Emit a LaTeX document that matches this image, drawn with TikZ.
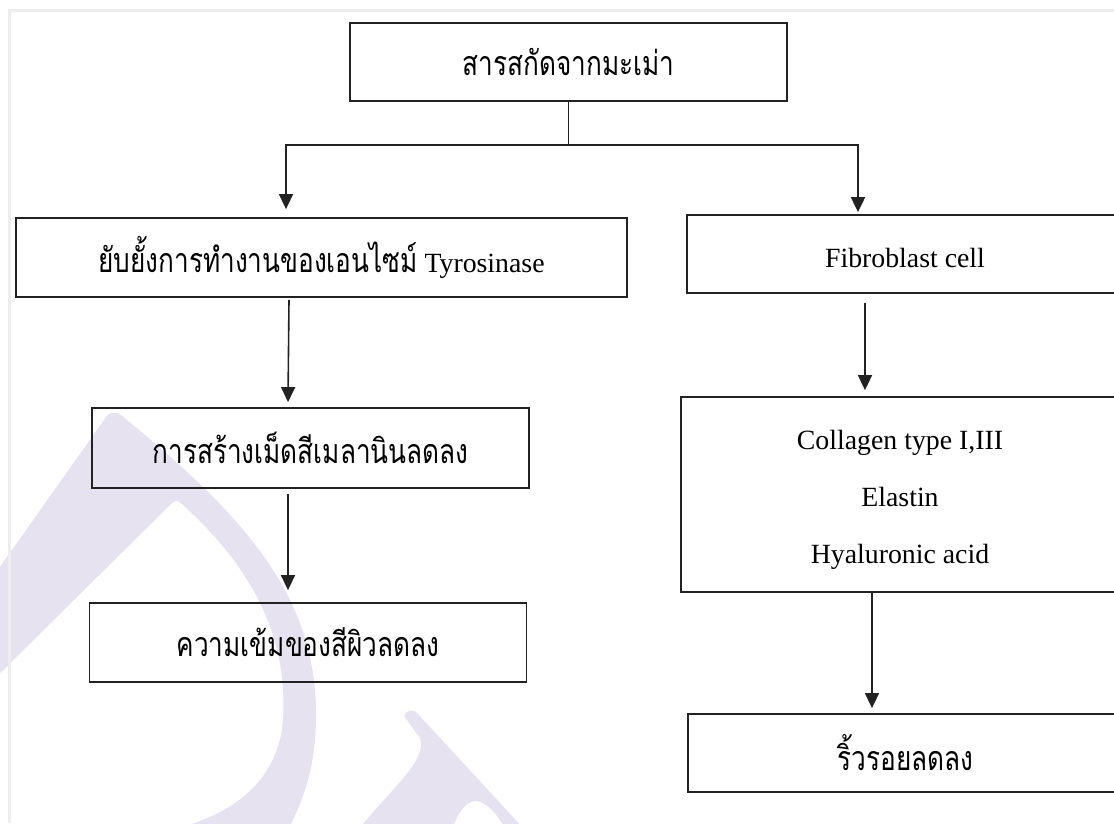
\documentclass[tikz,border=0pt]{standalone}
\usepackage{fontspec}
\setmainfont{Liberation Serif}
\newfontfamily\thaifont[Script=Thai, FakeStretch=0.77]{Loma}
\usetikzlibrary{arrows.meta}
\definecolor{wm}{RGB}{230,226,240}
\definecolor{ln}{RGB}{34,34,34}
\newcommand{\engf}{\fontsize{27.8pt}{33pt}\selectfont}
\newcommand{\thf}{\thaifont\fontsize{34pt}{38pt}\selectfont}
\tikzset{
  box/.style={draw=ln, line width=1.8pt, rectangle, inner sep=0pt, align=center, font=\engf},
  arr/.style={draw=ln, line width=1.6pt, -{Triangle[length=15pt,width=14pt]}},
  frame/.style={draw=black!7, line width=3pt}
}
\begin{document}
\begin{tikzpicture}[x=1pt,y=-1pt]
\useasboundingbox (0,0) rectangle (1114,823);
% watermark
\fill[wm, even odd rule]
  (-20,595) -- (104,420) .. controls (108,412) and (116,410) .. (122,416)
  .. controls (250,520) and (318,600) .. (316,720)
  .. controls (315,770) and (303,800) .. (288,830) -- (-20,830) -- cycle
  (-20,693) -- (170,505) .. controls (174,500) and (178,500) .. (182,504)
  .. controls (255,570) and (288,640) .. (283,720)
  .. controls (278,780) and (235,815) .. (170,830) -- (-20,830) -- cycle;
\fill[wm] (404,716) .. controls (407,709) and (414,709) .. (418,714)
  -- (525,830) -- (506,830) .. controls (496,812) and (486,802) .. (476,801)
  .. controls (466,801) and (458,812) .. (452,830) -- (358,830)
  .. controls (390,790) and (428,760) .. (420,738) -- cycle;
% faint page frame
\draw[frame] (9.5,823) -- (9.5,10.5) -- (1114,10.5);
% boxes
\node[box, minimum width=437pt, minimum height=78pt, font=\thf] (T) at (568.5,62) {สารสกัดจากมะเม่า};
\node[box, minimum width=611pt, minimum height=79pt] (L1) at (321.5,257.5) {{\thf ยับยั้งการทำงานของเอนไซม์} Tyrosinase};
\node[box, minimum width=437pt, minimum height=80pt, font=\thf] (L2) at (310.5,448) {การสร้างเม็ดสีเมลานินลดลง};
\node[box, minimum width=437pt, minimum height=79pt, font=\thf] (L3) at (308,642.5) {ความเข้มของสีผิวลดลง};
\node[box, minimum width=436pt, minimum height=78pt, text height=26pt, text depth=0pt] (R1) at (905,254) {Fibroblast cell};
\node[box, minimum width=438pt, minimum height=195pt, font={\fontsize{27.8pt}{57pt}\selectfont}] (R2) at (900,494.5) {\rule{0pt}{30pt}Collagen type I,III\\Elastin\\Hyaluronic acid};
\node[box, minimum width=435pt, minimum height=78pt, font=\thf] (R3) at (905.5,753) {ริ้วรอยลดลง};
% connectors
\path (T.south) ++(0,43) coordinate (split);
\draw[ln, line width=1pt] (T.south) -- (split);
\draw[arr] (split) -| ([xshift=-35.5pt,yshift=8pt]L1.north);
\draw[arr, line width=2pt] (split) -| ([xshift=-47pt,yshift=2pt]R1.north);
\draw[arr] ([xshift=-32.5pt,yshift=-2pt]L1.south) -- ([xshift=-22.5pt,yshift=5pt]L2.north);
\draw[arr] ([xshift=-22.5pt,yshift=-5pt]L2.south) -- ([xshift=-20pt,yshift=12pt]L3.north);
\draw[arr] ([xshift=-40pt,yshift=-9pt]R1.south) -- ([xshift=-35pt,yshift=6pt]R2.north);
\draw[arr] ([xshift=-28pt]R2.south) -- ([xshift=-33.5pt,yshift=5pt]R3.north);
\end{tikzpicture}
\end{document}
